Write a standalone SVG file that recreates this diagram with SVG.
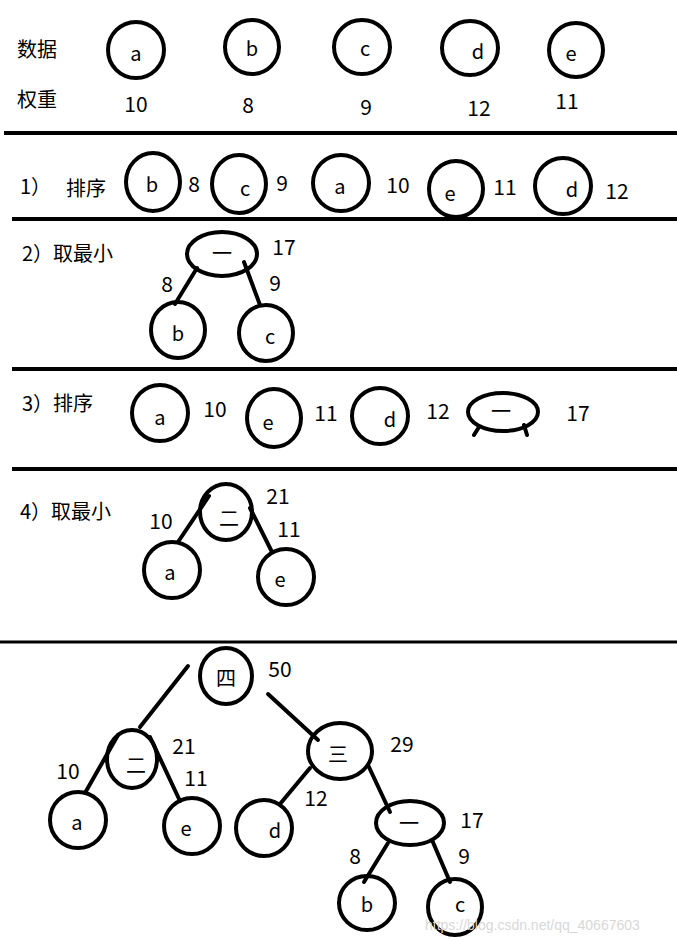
<svg xmlns="http://www.w3.org/2000/svg" width="677" height="940" viewBox="0 0 677 940">
<style>
.n{fill:none;stroke:#000;stroke-width:4}
.c{stroke:#000;stroke-width:4;stroke-linecap:round;fill:none}
.s{stroke:#000;stroke-width:4;fill:none}
text{font-family:"Noto Sans CJK SC","Liberation Sans",sans-serif;font-size:20px;fill:#000}
.l{text-anchor:middle;dominant-baseline:central}
.w{font-size:21px}
.wm{font-family:"Liberation Sans",sans-serif;font-size:14px;fill:#d8d8d8}
</style>
<rect width="677" height="940" fill="#fff"/>
<g id="separators">
<line class="s" x1="4" y1="133" x2="677" y2="133"/>
<line class="s" x1="12" y1="219" x2="677" y2="219"/>
<line class="s" x1="12" y1="369" x2="677" y2="369"/>
<line class="s" x1="12" y1="469" x2="677" y2="469"/>
<line class="s" x1="0" y1="642" x2="677" y2="642" style="stroke-width:3"/>
</g>
<g id="labels">
<text x="17" y="57">数据</text>
<text x="17" y="107">权重</text>
<text x="20" y="194">1）</text>
<text x="66" y="196">排序</text>
<text x="22" y="261">2）取最小</text>
<text x="22" y="411">3）排序</text>
<text x="20" y="519">4）取最小</text>
</g>
<g id="connectors">
<line class="c" x1="197" y1="268" x2="175" y2="304"/>
<line class="c" x1="244" y1="262" x2="260" y2="305"/>
<path class="c" d="M479,427 L474,435 M524,425 L527,435"/>
<line class="c" x1="209" y1="496" x2="178" y2="542"/>
<line class="c" x1="250" y1="508" x2="272" y2="552"/>
<line class="c" x1="188" y1="666" x2="140" y2="727"/>
<line class="c" x1="268" y1="694" x2="318" y2="740"/>
<line class="c" x1="118" y1="735" x2="85" y2="793"/>
<line class="c" x1="150" y1="737" x2="180" y2="801"/>
<line class="c" x1="310" y1="768" x2="280" y2="804"/>
<line class="c" x1="368" y1="765" x2="390" y2="812"/>
<line class="c" x1="388" y1="843" x2="364" y2="882"/>
<line class="c" x1="432" y1="840" x2="450" y2="882"/>
</g>
<g id="top-a"><ellipse class="n" cx="136" cy="50" rx="28" ry="28"/><text class="l" x="136" y="52">a</text></g>
<g id="top-b"><ellipse class="n" cx="252" cy="47" rx="27" ry="27"/><text class="l" x="252" y="47">b</text></g>
<g id="top-c"><ellipse class="n" cx="362" cy="47" rx="28" ry="27"/><text class="l" x="365" y="47">c</text></g>
<g id="top-d"><ellipse class="n" cx="470" cy="48" rx="28" ry="27"/><text class="l" x="478" y="50">d</text></g>
<g id="top-e"><ellipse class="n" cx="576" cy="50" rx="27" ry="27"/><text class="l" x="571" y="52">e</text></g>
<g id="weights">
<text class="l w" x="136" y="103">10</text>
<text class="l w" x="248" y="104">8</text>
<text class="l w" x="366" y="106">9</text>
<text class="l w" x="479" y="107">12</text>
<text class="l w" x="567" y="100">11</text>
</g>
<g id="r1-b"><ellipse class="n" cx="153" cy="182" rx="27" ry="29"/><text class="l" x="152" y="183">b</text><text class="l w" x="194" y="183">8</text></g>
<g id="r1-c"><ellipse class="n" cx="239" cy="184" rx="27" ry="29"/><text class="l" x="245" y="187">c</text><text class="l w" x="282" y="182">9</text></g>
<g id="r1-a"><ellipse class="n" cx="341" cy="183" rx="28" ry="28"/><text class="l" x="340" y="185">a</text><text class="l w" x="398" y="184">10</text></g>
<g id="r1-e"><ellipse class="n" cx="456" cy="189" rx="27" ry="28"/><text class="l" x="450" y="192">e</text><text class="l w" x="505" y="186">11</text></g>
<g id="r1-d"><ellipse class="n" cx="563" cy="186" rx="28" ry="28"/><text class="l" x="572" y="188">d</text><text class="l w" x="617" y="190">12</text></g>
<g id="r2-one"><ellipse class="n" cx="222" cy="254" rx="35" ry="22"/><text class="l" x="222" y="252">一</text><text class="l w" x="284" y="246">17</text></g>
<g id="r2-b"><ellipse class="n" cx="178" cy="330" rx="27" ry="28"/><text class="l" x="178" y="332">b</text><text class="l w" x="167" y="283">8</text></g>
<g id="r2-c"><ellipse class="n" cx="266" cy="333" rx="27" ry="28"/><text class="l" x="270" y="335">c</text><text class="l w" x="275" y="282">9</text></g>
<g id="r3-a"><ellipse class="n" cx="160" cy="413" rx="28" ry="28"/><text class="l" x="160" y="416">a</text><text class="l w" x="215" y="408">10</text></g>
<g id="r3-e"><ellipse class="n" cx="274" cy="418" rx="27" ry="29"/><text class="l" x="268" y="421">e</text><text class="l w" x="326" y="412">11</text></g>
<g id="r3-d"><ellipse class="n" cx="380" cy="416" rx="28" ry="28"/><text class="l" x="390" y="418">d</text><text class="l w" x="438" y="410">12</text></g>
<g id="r3-one"><ellipse class="n" cx="503" cy="412" rx="35" ry="19"/><text class="l" x="501" y="410">一</text><text class="l w" x="578" y="412">17</text></g>
<g id="r4-two"><ellipse class="n" cx="226" cy="512" rx="26" ry="28"/><text class="l" x="229" y="517">二</text><text class="l w" x="278" y="495">21</text></g>
<g id="r4-a"><ellipse class="n" cx="172" cy="570" rx="28" ry="28"/><text class="l" x="170" y="571">a</text><text class="l w" x="161" y="520">10</text></g>
<g id="r4-e"><ellipse class="n" cx="286" cy="577" rx="28" ry="28"/><text class="l" x="280" y="578">e</text><text class="l w" x="289" y="528">11</text></g>
<g id="t-four"><ellipse class="n" cx="226" cy="676" rx="26" ry="28"/><text class="l" x="226" y="677">四</text><text class="l w" x="280" y="668">50</text></g>
<g id="t-three"><ellipse class="n" cx="340" cy="751" rx="32" ry="28"/><text class="l" x="338" y="753">三</text><text class="l w" x="402" y="743">29</text></g>
<g id="t-two"><ellipse class="n" cx="132" cy="759" rx="25" ry="29"/><text class="l" x="136" y="764">二</text><text class="l w" x="184" y="745">21</text></g>
<g id="t-a"><ellipse class="n" cx="78" cy="820" rx="28" ry="28"/><text class="l" x="77" y="821">a</text><text class="l w" x="68" y="770">10</text></g>
<g id="t-e"><ellipse class="n" cx="192" cy="826" rx="28" ry="28"/><text class="l" x="186" y="827">e</text><text class="l w" x="196" y="777">11</text></g>
<g id="t-d"><ellipse class="n" cx="264" cy="828" rx="28" ry="28"/><text class="l" x="275" y="829">d</text><text class="l w" x="316" y="797">12</text></g>
<g id="t-one"><ellipse class="n" cx="410" cy="823" rx="34" ry="22"/><text class="l" x="409" y="822">一</text><text class="l w" x="472" y="819">17</text></g>
<g id="t-b"><ellipse class="n" cx="367" cy="903" rx="28" ry="27"/><text class="l" x="367" y="903">b</text><text class="l w" x="355" y="855">8</text></g>
<g id="t-c"><ellipse class="n" cx="455" cy="907" rx="27" ry="28"/><text class="l" x="460" y="903">c</text><text class="l w" x="464" y="855">9</text></g>
<text class="wm" x="425" y="930">https://blog.csdn.net/qq_40667603</text>
</svg>
